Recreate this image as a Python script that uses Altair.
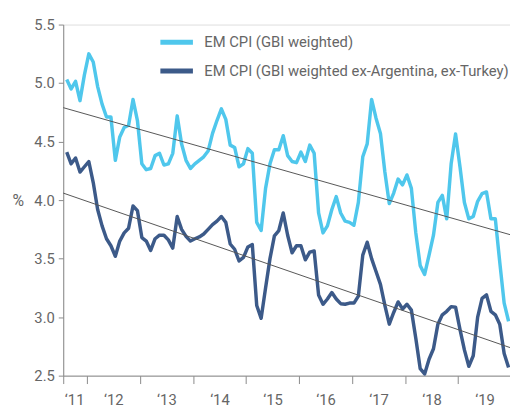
import altair as alt
import pandas as pd

# ---- data ----
series_names = ["EM CPI (GBI weighted)", "EM CPI (GBI weighted ex-Argentina, ex-Turkey)"]
start_year = 2011.62  # first monthly observation (decimal year)

em_cpi = [
    5.03, 4.95, 5.015, 4.85, 5.07, 5.25, 5.18, 4.97, 4.82, 4.71,
    4.71, 4.34, 4.54, 4.62, 4.64, 4.86, 4.68, 4.31, 4.26, 4.27,
    4.38, 4.40, 4.30, 4.31, 4.40, 4.72, 4.48, 4.34, 4.27, 4.31,
    4.34, 4.37, 4.42, 4.57, 4.68, 4.78, 4.69, 4.47, 4.45, 4.285,
    4.31, 4.44, 4.40, 3.81, 3.74, 4.10, 4.31, 4.43, 4.43, 4.55,
    4.38, 4.33, 4.32, 4.41, 4.33, 4.47, 4.40, 3.89, 3.72, 3.78,
    3.92, 4.03, 3.89, 3.82, 3.81, 3.785, 3.98, 4.37, 4.48, 4.86,
    4.70, 4.57, 4.24, 3.97, 4.06, 4.18, 4.13, 4.215, 4.10, 3.72,
    3.44, 3.365, 3.53, 3.70, 3.98, 4.04, 3.84, 4.31, 4.565, 4.285,
    3.98, 3.84, 3.86, 3.99, 4.055, 4.07, 3.84, 3.84, 3.47, 3.12,
    2.965,
]
em_cpi_ex = [
    4.41, 4.31, 4.36, 4.24, 4.285, 4.33, 4.15, 3.92, 3.78, 3.67,
    3.61, 3.52, 3.65, 3.72, 3.76, 3.95, 3.91, 3.68, 3.65, 3.57,
    3.67, 3.70, 3.70, 3.66, 3.59, 3.86, 3.75, 3.69, 3.65, 3.67,
    3.685, 3.71, 3.75, 3.79, 3.82, 3.86, 3.81, 3.625, 3.58, 3.48,
    3.51, 3.60, 3.62, 3.10, 2.99, 3.25, 3.50, 3.695, 3.74, 3.89,
    3.70, 3.55, 3.61, 3.61, 3.49, 3.555, 3.565, 3.19, 3.11, 3.155,
    3.21, 3.155, 3.115, 3.11, 3.12, 3.12, 3.18, 3.53, 3.64, 3.50,
    3.39, 3.28, 3.10, 2.94, 3.04, 3.13, 3.07, 3.11, 3.06, 2.82,
    2.56, 2.515, 2.64, 2.73, 2.94, 3.02, 3.05, 3.09, 3.085, 2.895,
    2.72, 2.58, 2.67, 3.00, 3.16, 3.19, 3.05, 3.02, 2.94, 2.69,
    2.57,
]

x_domain = [2011.554, 2019.98]
trend_x = [2011.554, 2019.98]
trend_light = [4.79, 3.705]
trend_dark = [4.06, 2.74]

year_ticks = [2011.554, 2012, 2013, 2014, 2015, 2016, 2017, 2018, 2019]
label_positions = [2011.76, 2012.5, 2013.5, 2014.5, 2015.5, 2016.5, 2017.5, 2018.5, 2019.5]
y_ticks = [2.5, 3.0, 3.5, 4.0, 4.5, 5.0, 5.5]

colors = ["#4FC7EC", "#3C5A89"]
FONT = "Roboto"
TEXT = "#666666"
AXIS = "#8a8a8a"

# ---- tables ----
rows = []
for name, vals in zip(series_names, [em_cpi, em_cpi_ex]):
    for i, v in enumerate(vals):
        rows.append({"t": start_year + i / 12, "v": v, "series": name})
df = pd.DataFrame(rows)

trows = []
for name, vals in zip(series_names, [trend_light, trend_dark]):
    for tx, tv in zip(trend_x, vals):
        trows.append({"t": tx, "v": tv, "series": name})
tdf = pd.DataFrame(trows)

xscale = alt.Scale(domain=x_domain, nice=False, zero=False)
yscale = alt.Scale(domain=[2.5, 5.5], nice=False, zero=False)

x_tick_axis = alt.Axis(
    values=year_ticks, labels=False, tickSize=8, tickColor=AXIS, domainColor=AXIS,
    grid=False, title=None, orient="bottom",
)
x_label_axis = alt.Axis(
    values=label_positions, ticks=False, domain=False, grid=False, title=None,
    orient="bottom", labelExpr="'\u2018' + substring(toString(floor(datum.value)), 2, 4)",
    labelPadding=17, labelFontSize=15, labelColor=TEXT, labelFont=FONT,
)
y_axis = alt.Axis(
    values=y_ticks, format=".1f", tickSize=5, tickColor=AXIS, domainColor=AXIS, grid=False,
    labelFontSize=15, labelColor=TEXT, labelFont=FONT, labelPadding=4,
    title="%", titleAngle=0, titleFontSize=16, titleFontWeight="normal", titleColor=TEXT,
    titleFont=FONT, titleX=-46, titleY=178, titleAlign="center", titleBaseline="middle",
)

lines = alt.Chart(df).mark_line(strokeWidth=3.5, strokeJoin="round").encode(
    x=alt.X("t:Q", scale=xscale, axis=x_tick_axis),
    y=alt.Y("v:Q", scale=yscale, axis=y_axis),
    color=alt.Color(
        "series:N",
        scale=alt.Scale(domain=series_names, range=colors),
        sort=series_names,
        legend=alt.Legend(
            title=None, orient="none", legendX=96, legendY=-1, symbolType="stroke",
            symbolSize=1089, symbolStrokeWidth=5, labelFontSize=15, labelColor=TEXT,
            labelFont=FONT, labelOffset=9, rowPadding=-16, labelLimit=400, padding=0,
        ),
    ),
)

trends = alt.Chart(tdf).mark_line(strokeWidth=1, color="#555555").encode(
    x=alt.X("t:Q", scale=xscale, axis=x_label_axis),
    y=alt.Y("v:Q", scale=yscale),
    detail="series:N",
)

chart = alt.layer(lines, trends).resolve_axis(x="independent").properties(
    width=453, height=356,
    padding={"left": 56, "top": 14, "right": 0, "bottom": 30},
    autosize=alt.AutoSizeParams(type="none"),
).configure_view(stroke=None).configure(background="white")

chart.save("out.html", embed_options={"renderer": "svg", "actions": False})
